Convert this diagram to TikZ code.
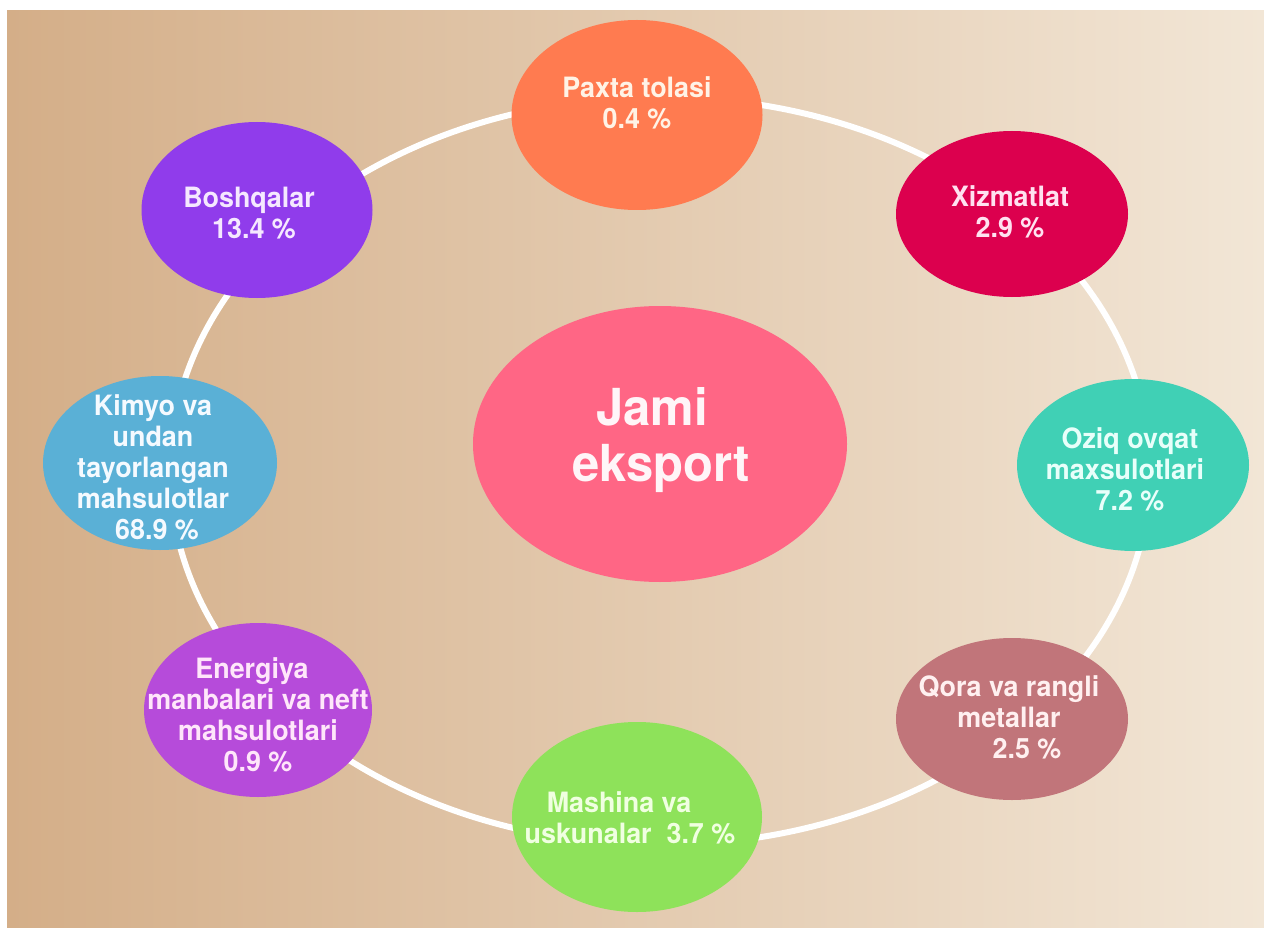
\documentclass[tikz,border=0pt]{standalone}
\usepackage{fontspec}
\setmainfont{TeX Gyre Heros}[FakeStretch=0.96]
\usetikzlibrary{shapes.geometric}
\definecolor{bgL}{RGB}{212,174,136}
\definecolor{bgR}{RGB}{242,230,214}
\definecolor{cPaxta}{RGB}{255,123,80}
\definecolor{cXizmat}{RGB}{220,0,78}
\definecolor{cOziq}{RGB}{64,208,181}
\definecolor{cQora}{RGB}{193,117,122}
\definecolor{cMashina}{RGB}{142,226,90}
\definecolor{cEnergiya}{RGB}{182,75,218}
\definecolor{cKimyo}{RGB}{90,176,214}
\definecolor{cBosh}{RGB}{144,60,235}
\definecolor{cJami}{RGB}{255,102,133}
\definecolor{tPaxta}{RGB}{255,243,230}
\definecolor{tXizmat}{RGB}{255,225,240}
\definecolor{tOziq}{RGB}{232,255,250}
\definecolor{tQora}{RGB}{255,240,240}
\definecolor{tMashina}{RGB}{240,255,225}
\definecolor{tEnergiya}{RGB}{255,230,250}
\definecolor{tKimyo}{RGB}{245,250,255}
\definecolor{tBosh}{RGB}{245,232,255}
\definecolor{tJami}{RGB}{255,245,248}
\tikzset{
  bubble/.style={ellipse, draw=none, inner sep=0pt},
  lbl/.style={align=center, inner sep=0pt, font=\bfseries\fontsize{28}{31}\selectfont},
  biglbl/.style={align=center, inner sep=0pt, font=\bfseries\fontsize{51}{56}\selectfont},
  ring/.style={draw=white, line width=6pt}
}
\begin{document}
\begin{tikzpicture}[x=1pt,y=-1pt]
\useasboundingbox (0,0) rectangle (1264,928);
\fill[white] (0,0) rectangle (1264,928);
\shade[left color=bgL, right color=bgR] (7,11) rectangle (1264,928);
% ring
\draw[ring] (660,471) ellipse [x radius=490pt, y radius=374pt];
% bubbles
\node[bubble, fill=cPaxta, minimum width=251pt, minimum height=190pt] (paxta) at (637,115) {};
\node[bubble, fill=cXizmat, minimum width=232pt, minimum height=166pt] (xizmat) at (1012,214) {};
\node[bubble, fill=cOziq, minimum width=232pt, minimum height=172pt] (oziq) at (1133,465) {};
\node[bubble, fill=cQora, minimum width=232pt, minimum height=162pt] (qora) at (1012,719) {};
\node[bubble, fill=cMashina, minimum width=250pt, minimum height=190pt] (mashina) at (637,817) {};
\node[bubble, fill=cEnergiya, minimum width=228pt, minimum height=174pt] (energiya) at (258,710) {};
\node[bubble, fill=cKimyo, minimum width=234pt, minimum height=174pt] (kimyo) at (160,463) {};
\node[bubble, fill=cBosh, minimum width=231pt, minimum height=176pt] (bosh) at (257,210) {};
\node[bubble, fill=cJami, minimum width=374pt, minimum height=276pt] (jami) at (660,444) {};
% labels
\node[lbl, text=tPaxta] (paxtaT) at (637,103) {Paxta tolasi\\0.4 \%};
\node[lbl, text=tXizmat] (xizmatT) at (1010,212) {Xizmatlat\\2.9 \%};
\node[lbl, text=tOziq] (oziqT) at (1125,469) {\hspace*{10pt}Oziq ovqat\\maxsulotlari\\\hspace*{10pt}7.2 \%};
\node[lbl, text=tQora] (qoraT) at (1009,717) {Qora va rangli\\metallar\\\hspace*{36pt}2.5 \%};
\node[lbl, text=tMashina] (mashinaT) at (630,818) {Mashina va\hspace*{22pt}\\uskunalar\ \ 3.7 \%};
\node[lbl, text=tEnergiya] (energiyaT) at (258,715) {Energiya\hspace*{12pt}\\manbalari va neft\\mahsulotlari\hspace*{42pt}\\0.9 \%};
\node[lbl, text=tKimyo] (kimyoT) at (153,467) {Kimyo va\\undan\\tayorlangan\\mahsulotlar\hspace*{14pt}\\\hspace*{8pt}68.9 \%};
\node[lbl, text=tBosh] (boshT) at (249,213) {Boshqalar\\\hspace*{10pt}13.4 \%};
\node[biglbl, text=tJami] (jamiT) at (661,440) {Jami\hspace*{18pt}\\eksport};
\end{tikzpicture}
\end{document}
